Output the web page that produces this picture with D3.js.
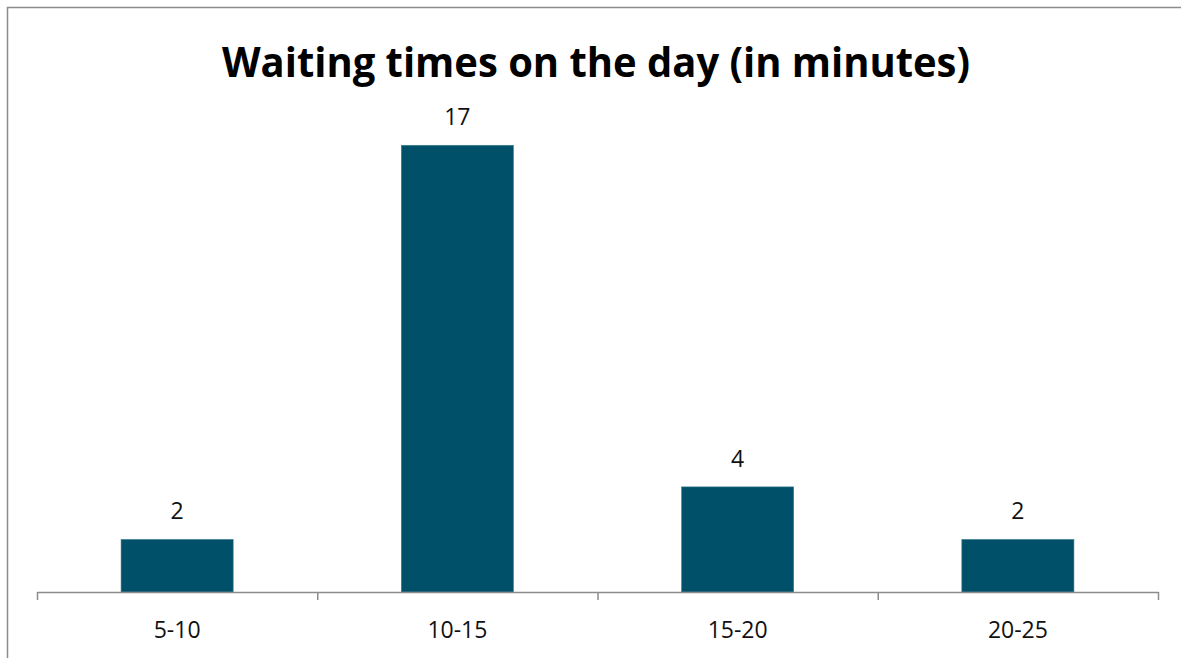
<!DOCTYPE html>
<html>
<head>
<meta charset="utf-8">
<script src="https://cdn.jsdelivr.net/npm/d3@7"></script>
<style>
  body { margin: 0; background: #fff; }
  svg { display: block; font-family: "Open Sans", sans-serif; }
</style>
</head>
<body>
<svg width="1181" height="658"></svg>
<script>
let categories = ['5-10', '10-15', '15-20', '20-25'];
let counts = [2, 17, 4, 2];
let title = 'Waiting times on the day (in minutes)';

let svg = d3.select('svg');
let width = 1181, height = 658;

let left = 37, right = 1158, baseline = 592;

/* chart frame, runs off the right and bottom edges */
svg.append('rect')
  .attr('x', 7.5).attr('y', 7.5)
  .attr('width', width + 20).attr('height', height + 20)
  .attr('fill', 'none').attr('stroke', '#8c8c8c').attr('stroke-width', 1.5);

svg.append('text')
  .attr('x', 596).attr('y', 77)
  .attr('text-anchor', 'middle')
  .attr('font-size', 42).attr('font-weight', 'bold')
  .attr('textLength', 748).attr('lengthAdjust', 'spacingAndGlyphs')
  .text(title);

let x = d3.scaleBand().domain(categories).range([left, right])
  .paddingInner(0.6).paddingOuter(0.3);
let y = d3.scaleLinear().domain([0, 18]).range([baseline, 119]);

/* bars */
svg.append('g').selectAll('rect').data(counts).enter().append('rect')
  .attr('x', (d, i) => x(categories[i]))
  .attr('y', d => y(d))
  .attr('width', x.bandwidth())
  .attr('height', d => baseline - y(d))
  .attr('fill', '#00506a')
  .attr('stroke', '#3d7d92').attr('stroke-width', 0.6);

/* value labels */
svg.append('g').selectAll('text').data(counts).enter().append('text')
  .attr('x', (d, i) => x(categories[i]) + x.bandwidth() / 2)
  .attr('y', d => y(d) - 20)
  .attr('text-anchor', 'middle')
  .attr('font-size', 23).attr('fill', '#111')
  .text(d => d);

/* axis line with ticks between the categories */
let edges = d3.scaleLinear().domain([0, categories.length]).range([left, right]);
let edgeAxis = svg.append('g').attr('transform', 'translate(0,' + baseline + ')')
  .call(d3.axisBottom(edges).tickValues(d3.range(categories.length + 1))
    .tickSize(8).tickSizeOuter(0).tickFormat(''));
edgeAxis.selectAll('path, line').attr('stroke', '#8c8c8c').attr('stroke-width', 1.5);

let catAxis = svg.append('g').attr('transform', 'translate(0,' + baseline + ')')
  .call(d3.axisBottom(x).tickSize(0).tickPadding(30));
catAxis.select('.domain').remove();
catAxis.selectAll('text').attr('font-size', 23).attr('fill', '#111')
  .attr('font-family', '"Open Sans", sans-serif');
</script>
</body>
</html>
